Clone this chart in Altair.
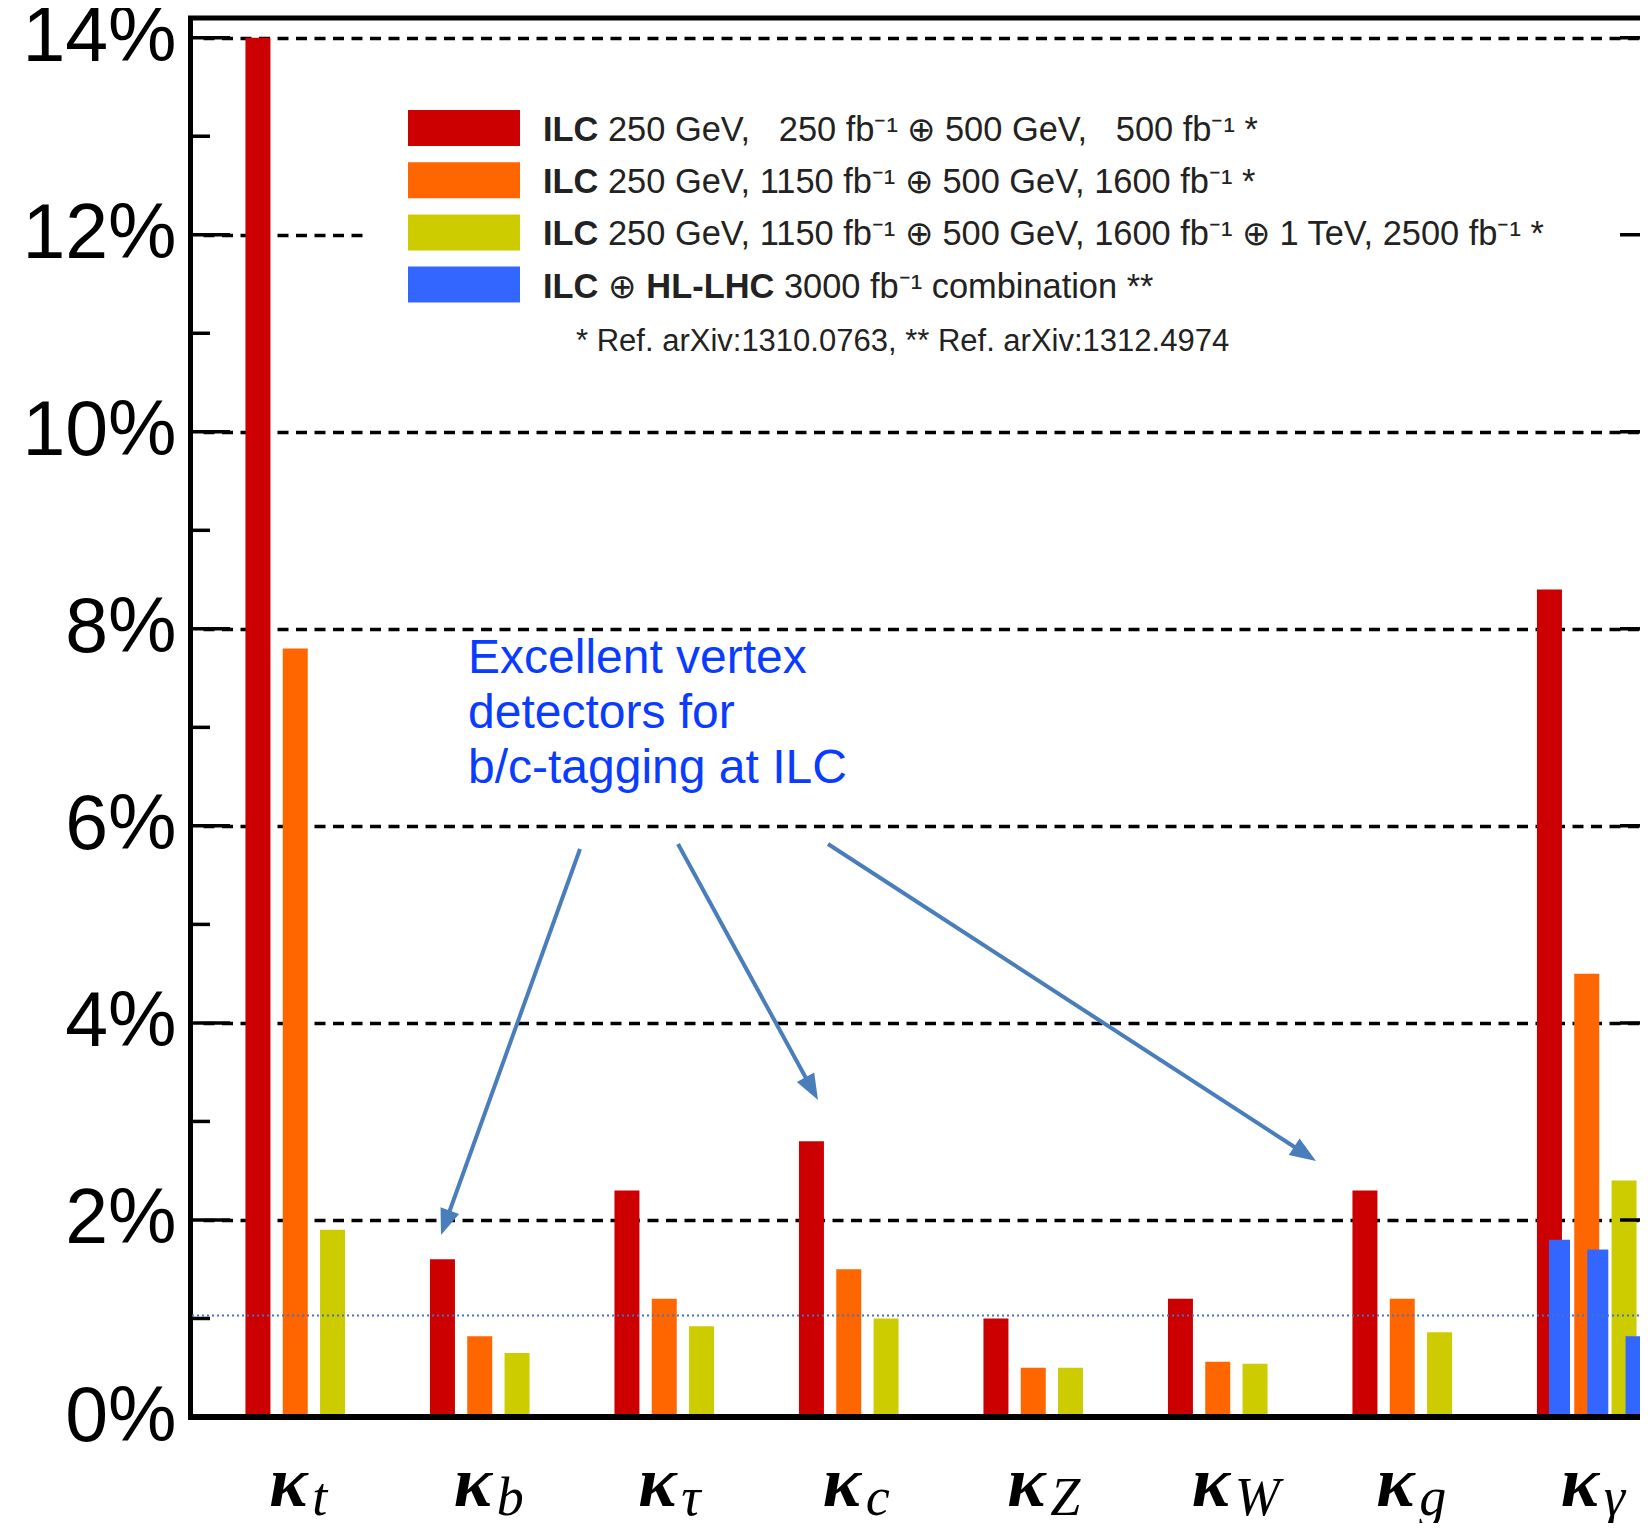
import math
import altair as alt
import pandas as pd

# ---------------- data ----------------
params = ["t", "b", "τ", "c", "Z", "W", "g", "γ"]          # kappa subscripts
series_keys = ["ilc_250_500", "ilc_1150_1600", "ilc_1150_1600_1tev"]
series_colors = ["#cc0000", "#ff6600", "#cccc00"]
combo_color = "#3366ff"

red_vals = [14.0, 1.6, 2.3, 2.8, 1.0, 1.2, 2.3, 8.4]
orange_vals = [7.8, 0.82, 1.2, 1.5, 0.5, 0.56, 1.2, 4.5]
yellow_vals = [1.9, 0.65, 0.92, 1.0, 0.5, 0.54, 0.86, 2.4]

combo_param = "γ"
combo_vals = [1.8, 1.7, 0.82]          # ILC (+) HL-LHC, one per ILC scenario

ref_line_value = 1.03
major_ticks = [0, 2, 4, 6, 8, 10, 12, 14]
minor_ticks = [1, 3, 5, 7, 9, 11, 13]

legend_rows = [
    [("ILC", "bold"), ("250 GeV,\u00a0\u00a0\u00a0250 fb⁻¹ ⊕ 500 GeV,\u00a0\u00a0\u00a0500 fb⁻¹ *", "normal")],
    [("ILC", "bold"), ("250 GeV, 1150 fb⁻¹ ⊕ 500 GeV, 1600 fb⁻¹ *", "normal")],
    [("ILC", "bold"), ("250 GeV, 1150 fb⁻¹ ⊕ 500 GeV, 1600 fb⁻¹ ⊕ 1 TeV, 2500 fb⁻¹ *", "normal")],
    [("ILC", "bold"), ("⊕", "normal"), ("HL-LHC", "bold"), ("3000 fb⁻¹ combination **", "normal")],
]
legend_colors = series_colors + [combo_color]
footnote = "* Ref. arXiv:1310.0763, ** Ref. arXiv:1312.4974"
annotation = "Excellent vertex\ndetectors for\nb/c-tagging at ILC"

# ---------------- layout ----------------
W, H = 1450, 1399
STEP = 184.5
X0 = 13
one = pd.DataFrame({"k": [0]})

rows = []
for i, p in enumerate(params):
    for s, vals in zip(series_keys, [red_vals, orange_vals, yellow_vals]):
        rows.append({"param": p, "series": s, "value": vals[i]})
bars_df = pd.DataFrame(rows)
combo_df = pd.DataFrame({"param": [combo_param] * 3, "series": series_keys, "value": combo_vals})
params_df = pd.DataFrame({"param": params})

xscale = alt.Scale(domain=params, range=[X0, X0 + len(params) * STEP],
                   paddingInner=0.0558, paddingOuter=0.0279)
xaxis = alt.Axis(
    labelExpr="'κ'", labelFont="Liberation Serif", labelFontSize=72, labelFontWeight="bold",
    labelFontStyle="italic", labelColor="black", labelOffset=-7, labelPadding=88, labelBaseline="alphabetic",
    labelAngle=0, ticks=False, tickSize=0, domain=False, grid=False, title=None,
)
X = alt.X("param:N", sort=params, scale=xscale, axis=xaxis)
XO = alt.XOffset("series:N", sort=series_keys,
                 scale=alt.Scale(domain=series_keys, paddingInner=0.33, paddingOuter=1))
XO_combo = alt.XOffset("series:N", sort=series_keys,
                       scale=alt.Scale(domain=series_keys, paddingInner=0.45, paddingOuter=1, align=0.644))
yscale = alt.Scale(domain=[0, 14.2], nice=False, zero=True)
yaxis = alt.Axis(
    values=major_ticks, labelExpr="datum.value + '%'", labelFont="Liberation Sans", labelFontSize=77,
    labelColor="black", labelPadding=14, ticks=False, domain=True, domainColor="black", domainWidth=5,
    grid=True, gridColor="black", gridDash=[11, 7.5], gridWidth=3.5, gridOpacity=1, title=None,
)
Y = alt.Y("value:Q", scale=yscale, axis=yaxis)

bars = alt.Chart(bars_df).mark_bar().encode(
    x=X, xOffset=XO, y=Y,
    color=alt.Color("series:N", scale=alt.Scale(domain=series_keys, range=series_colors), legend=None),
)
combo = alt.Chart(combo_df).mark_bar(color=combo_color).encode(x=X, xOffset=XO_combo, y=Y)

legend_box = alt.Chart(one).mark_rect(color="white").encode(
    x=alt.value(173), x2=alt.value(1490), y=alt.value(30), y2=alt.value(362))

tick_layers = []
for vals, ln in [(major_ticks, 40), (minor_ticks, 20)]:
    d = pd.DataFrame({"value": vals})
    tick_layers.append(alt.Chart(d).mark_rule(color="black", strokeWidth=3.5).encode(
        y=Y, x=alt.value(0), x2=alt.value(ln)))
    tick_layers.append(alt.Chart(d).mark_rule(color="black", strokeWidth=3.5).encode(
        y=Y, x=alt.value(1470 - ln), x2=alt.value(1470)))

top_frame = alt.Chart(one).mark_rule(color="black", strokeWidth=5).encode(
    x=alt.value(-2), x2=alt.value(1490), y=alt.value(0))
bottom_frame = alt.Chart(one).mark_rule(color="black", strokeWidth=6).encode(
    x=alt.value(-2), x2=alt.value(1490), y=alt.value(H))

ref_line = alt.Chart(pd.DataFrame({"value": [ref_line_value]})).mark_rule(
    color="#4472c4", strokeDash=[2, 3], strokeWidth=2.2).encode(y=Y, x=alt.value(2), x2=alt.value(1490))

# legend
FS = 34.4
seg_em = {"ILC": 1.611, "⊕": 0.838, "HL-LHC": 3.721}
legend_layers = []
for i, (segs, col) in enumerate(zip(legend_rows, legend_colors)):
    top = 92 + 52.2 * i
    legend_layers.append(alt.Chart(one).mark_rect(color=col).encode(
        x=alt.value(218), x2=alt.value(330), y=alt.value(top), y2=alt.value(top + 36)))
    x = 353
    for txt, wt in segs:
        legend_layers.append(alt.Chart(one).mark_text(
            text=txt, font="Liberation Sans", fontSize=FS, fontWeight=wt, color="#222222",
            align="left", baseline="alphabetic").encode(x=alt.value(x), y=alt.value(top + 31)))
        x += seg_em.get(txt, 0) * FS + 0.278 * FS
legend_layers.append(alt.Chart(one).mark_text(
    text=footnote, font="Liberation Sans", fontSize=31, color="#222222", align="left",
    baseline="alphabetic").encode(x=alt.value(386), y=alt.value(333)))

# annotation
note = alt.Chart(one).mark_text(
    text=annotation, lineBreak="\n", lineHeight=55, font="Liberation Sans", fontSize=48,
    color="#0a3cff", align="left", baseline="alphabetic").encode(x=alt.value(278), y=alt.value(655))

arrows = [((390, 831), (251, 1217)), ((488, 826), (628, 1082)), ((638, 826), (1126, 1143))]
arrow_layers = []
HEAD = 26
for (sx, sy), (tx, ty) in arrows:
    dx, dy = tx - sx, ty - sy
    L = math.hypot(dx, dy)
    ux, uy = dx / L, dy / L
    ex, ey = tx - ux * (HEAD - 4), ty - uy * (HEAD - 4)
    ang = math.degrees(math.atan2(dx, -dy)) % 360
    arrow_layers.append(alt.Chart(one).mark_rule(color="#4a7ebb", strokeWidth=4).encode(
        x=alt.value(sx), y=alt.value(sy), x2=alt.value(ex), y2=alt.value(ey)))
    arrow_layers.append(alt.Chart(one).mark_point(
        shape="M0,0 L0.38,1 L-0.38,1 Z", size=(2 * HEAD) ** 2, angle=ang, filled=True,
        color="#4a7ebb", opacity=1, strokeWidth=0).encode(x=alt.value(tx), y=alt.value(ty)))

subs = alt.Chart(params_df).mark_text(
    font="Liberation Serif", fontStyle="italic", fontSize=54, align="left", baseline="alphabetic",
    dx=17, color="black").encode(x=X, text="param:N", y=alt.value(1497))

chart = alt.layer(
    bars, combo, legend_box, *tick_layers, top_frame, bottom_frame, ref_line,
    *legend_layers, note, *arrow_layers, subs,
).resolve_scale(xOffset="independent").properties(
    width=W, height=H,
    autosize=alt.AutoSizeParams(type="none"),
    padding={"left": 182, "top": 10, "right": 0, "bottom": 106},
).configure_view(stroke=None).configure(background="white", font="Liberation Sans")

chart.save("out.html", embed_options={"renderer": "svg", "actions": False})
